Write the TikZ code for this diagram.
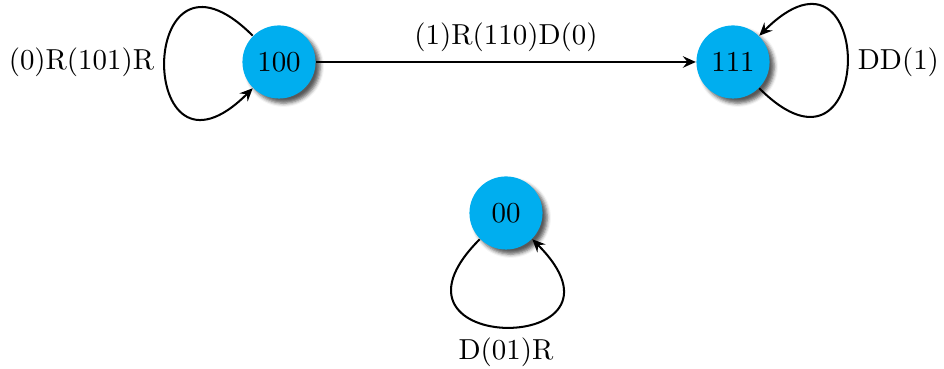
\documentclass[tikz,border=0pt]{standalone}
\usetikzlibrary{arrows.meta,shadows.blur}
\definecolor{statefill}{RGB}{0,174,239}
\begin{document}
\begin{tikzpicture}[x=0.346pt,y=0.346pt,
  state/.style={circle,fill=statefill,minimum size=25.3pt,inner sep=0pt,
    blur shadow={shadow xshift=1.6pt,shadow yshift=-1.6pt,shadow blur radius=1.3pt,shadow opacity=65}},
  edge/.style={line width=0.7pt,-{Stealth[length=4.5pt,width=4pt,inset=1.6pt]}}]
  \useasboundingbox (0,0) rectangle (944,369);
  % states
  \node[state] (a) at (279,307) {100};
  \node[state] (b) at (733,307) {111};
  \node[state] (c) at (506,156) {00};
  % transition between the two upper states
  \draw[edge] (a) -- node[above] {(1)R(110)D(0)} (b);
  % self loops
  \draw[edge] (a.135) .. controls +(135:57.4pt) and +(225:57.4pt) .. node[pos=0.5,left] {(0)R(101)R} (a.225);
  \draw[edge] (b.-45) .. controls +(-45:57.4pt) and +(45:57.4pt) .. node[pos=0.5,right] {DD(1)} (b.45);
  \draw[edge] (c.225) .. controls +(225:57.4pt) and +(-45:57.4pt) .. node[pos=0.5,below] {D(01)R} (c.-45);
\end{tikzpicture}
\end{document}
